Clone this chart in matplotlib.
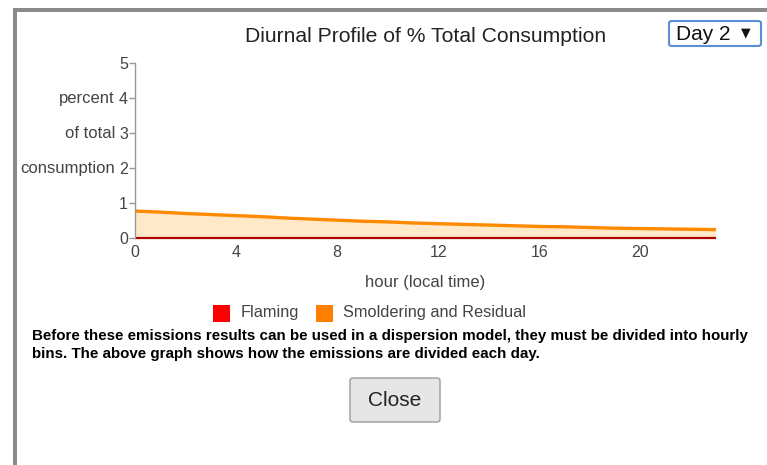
import matplotlib
matplotlib.use("Agg")
import matplotlib.pyplot as plt
from matplotlib.patches import Rectangle, FancyBboxPatch
from matplotlib.transforms import offset_copy
import numpy as np

plt.rcParams['font.family'] = ['Liberation Sans', 'DejaVu Sans']

title = "Diurnal Profile of % Total Consumption"
hours = list(range(24))
smoldering = [0.77, 0.74, 0.70, 0.67, 0.64, 0.61, 0.57, 0.54, 0.51, 0.48, 0.46, 0.43,
              0.41, 0.39, 0.37, 0.35, 0.33, 0.32, 0.30, 0.28, 0.27, 0.26, 0.25, 0.24]
flaming = [0.0] * 24
xticks = [0, 4, 8, 12, 16, 20]
yticks = [0, 1, 2, 3, 4, 5]
ylabel_lines = {4: "percent", 3: "of total", 2: "consumption"}
legend_labels = ["Flaming", "Smoldering and Residual"]
note = ("Before these emissions results can be used in a dispersion model, they must be divided into hourly\n"
        "bins. The above graph shows how the emissions are divided each day.")
day_label = "Day 2"

W, H = 767, 465
fig = plt.figure(figsize=(W / 100, H / 100), dpi=100)
fig.patch.set_facecolor("white")

def fx(px):
    return px / W

def fy(py):
    return 1 - py / H

# frame borders
fig.add_artist(Rectangle((fx(13), fy(465)), 4 / W, (465 - 8) / H, transform=fig.transFigure,
                         facecolor="#8a8a8a", edgecolor="none"))
fig.add_artist(Rectangle((fx(13), fy(12)), (W - 13) / W, 4 / H, transform=fig.transFigure,
                         facecolor="#8a8a8a", edgecolor="none"))

ax = fig.add_axes([fx(135), fy(238), (716 - 135) / W, (238 - 63) / H])
ax.fill_between(hours, 0, smoldering, color="#FFE9C8", lw=0)
ax.plot(hours, smoldering, color="#FF8A00", lw=2.4, solid_capstyle="butt")
ax.plot(hours, flaming, color="#B00000", lw=1.6, solid_capstyle="butt", clip_on=False)
ax.set_xlim(0, 23)
ax.set_ylim(0, 5)
ax.set_xticks(xticks)
ax.set_yticks(yticks)
for s in ["top", "right", "bottom"]:
    ax.spines[s].set_visible(False)
ax.spines["left"].set_color("#999999")
ax.spines["left"].set_linewidth(1)
ax.tick_params(axis="y", length=4, width=1, color="#999999", labelsize=11.5,
               labelcolor="#444444", pad=1)
ax.tick_params(axis="x", length=0, labelsize=11.5, labelcolor="#444444", pad=5)
ax.set_facecolor("none")
ylab_tr = offset_copy(ax.get_yaxis_transform(), fig=fig, x=-20, y=0, units="dots")
for yv, txt in ylabel_lines.items():
    ax.text(0, yv, txt, transform=ylab_tr, ha="right", va="center",
            fontsize=12, color="#444444")
ax.set_xlabel("hour (local time)", fontsize=12, color="#444444", labelpad=11)

fig.text(fx(426), fy(36), title, ha="center", va="center", fontsize=15.2, color="#222222")

# dropdown
fig.add_artist(FancyBboxPatch((fx(669), fy(46)), 92 / W, 25 / H, transform=fig.transFigure,
                              boxstyle="round,pad=0,rounding_size=0.004",
                              facecolor="white", edgecolor="#5b8ed6", lw=1.5))
fig.text(fx(676), fy(34), day_label, ha="left", va="center", fontsize=15, color="#111111")
fig.text(fx(746), fy(33), "\u25BC", ha="center", va="center", fontsize=9, color="#111111",
         family="DejaVu Sans")

# legend
fig.add_artist(Rectangle((fx(213), fy(322)), 17 / W, 17 / H, transform=fig.transFigure,
                         facecolor="#FF0000", edgecolor="none"))
fig.text(fx(241), fy(313), legend_labels[0], ha="left", va="center", fontsize=11.8, color="#444444")
fig.add_artist(Rectangle((fx(316), fy(322)), 17 / W, 17 / H, transform=fig.transFigure,
                         facecolor="#FF8000", edgecolor="none"))
fig.text(fx(343), fy(313), legend_labels[1], ha="left", va="center", fontsize=11.8, color="#444444")

fig.text(fx(32), fy(345), note, ha="left", va="center", fontsize=10.9, color="black",
         fontweight="bold", linespacing=1.3)

# close button
fig.add_artist(FancyBboxPatch((fx(350), fy(422)), 90 / W, 44 / H, transform=fig.transFigure,
                              boxstyle="round,pad=0,rounding_size=0.005",
                              facecolor="#e6e6e6", edgecolor="#9a9a9a", lw=1))
fig.text(fx(395), fy(400), "Close", ha="center", va="center", fontsize=15, color="#222222")

fig.savefig("out.png", dpi=100)
